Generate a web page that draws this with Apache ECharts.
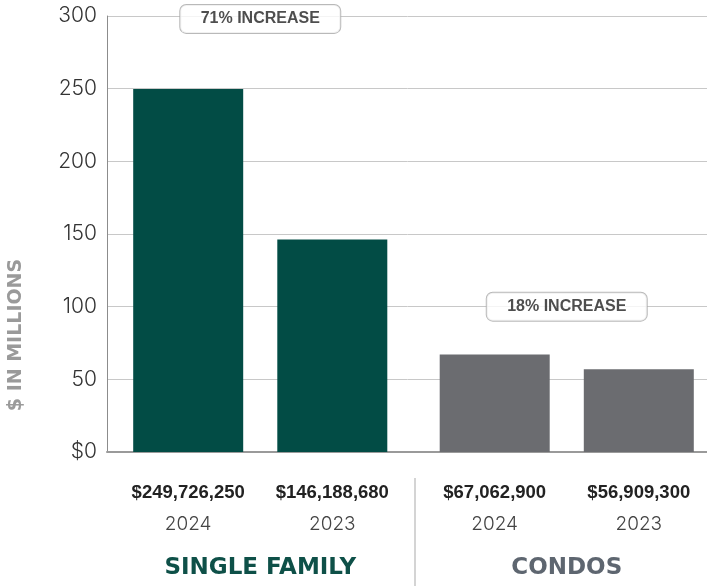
<!DOCTYPE html>
<html>
<head>
<meta charset="utf-8">
<script src="https://cdn.jsdelivr.net/npm/echarts@6/dist/echarts.min.js"></script>
<style>
  html, body { margin: 0; padding: 0; background: #fff; }
  #main { width: 707px; height: 586px; }
</style>
</head>
<body>
<div id="main"></div>
<script>
var groups = ['SINGLE FAMILY', 'CONDOS'];
var years = ['2024', '2023'];
// dollar totals, [single family, condos]
var sales2024 = [249726250, 67062900];
var sales2023 = [146188680, 56909300];
var yTicks = [0, 50, 100, 150, 200, 250, 300];
var callouts = ['71% INCREASE', '18% INCREASE'];
var calloutLevels = [298, 100];

var groupColors = ['#024c45', '#6b6c70'];
var groupTextColors = ['#0e5048', '#5e6670'];
var boldFont = '"Liberation Sans", Arial, sans-serif';

function money(v) {
  return '$' + Math.round(v).toLocaleString('en-US');
}

function barSeries(yearIdx, values) {
  return {
    name: years[yearIdx],
    type: 'bar',
    barWidth: 110,
    barGap: '31%',
    data: values.map(function (v, i) {
      return {
        value: v / 1e6,
        raw: v,
        itemStyle: { color: groupColors[i] }
      };
    }),
    label: {
      show: true,
      position: 'bottom',
      distance: 30,
      formatter: function (p) {
        return '{v|' + money(p.data.raw) + '}\n{y|' + years[yearIdx] + '}';
      },
      rich: {
        v: { fontFamily: boldFont, fontWeight: 'bold', fontSize: 18.5, color: '#222', lineHeight: 22 },
        y: { fontFamily: 'Inter, sans-serif', fontWeight: 300, fontSize: 19, color: '#444', lineHeight: 40 }
      }
    }
  };
}

var myChart = echarts.init(document.getElementById('main'));
var option = {
  animation: false,
  grid: { left: 107, width: 613, top: 16, bottom: 134, outerBoundsMode: 'none', containLabel: false },
  xAxis: {
    type: 'category',
    data: groups,
    axisLine: { show: true, lineStyle: { color: '#9a9a9a', width: 2 } },
    axisTick: { show: false },
    axisLabel: {
      margin: 101,
      formatter: function (v, i) { return '{g' + i + '|' + v + '}'; },
      rich: {
        g0: { fontFamily: '"DejaVu Sans", sans-serif', fontWeight: 'bold', fontSize: 23, color: groupTextColors[0], lineHeight: 30 },
        g1: { fontFamily: '"DejaVu Sans", sans-serif', fontWeight: 'bold', fontSize: 23, color: groupTextColors[1], lineHeight: 30 }
      }
    }
  },
  yAxis: {
    type: 'value',
    min: yTicks[0],
    max: yTicks[yTicks.length - 1],
    interval: 50,
    axisLine: { show: true, lineStyle: { color: '#8c8c8c', width: 1 } },
    axisTick: { show: false },
    splitLine: { lineStyle: { color: '#c8c8c8', width: 1 } },
    axisLabel: {
      margin: 10,
      fontFamily: 'Inter, sans-serif',
      fontWeight: 300,
      fontSize: 21,
      color: '#333',
      formatter: function (v) { return v === 0 ? '$0' : String(v); }
    }
  },
  graphic: [
    {
      type: 'text',
      x: 16, y: 335,
      rotation: Math.PI / 2,
      style: {
        text: '$ IN MILLIONS',
        font: 'bold 19px "DejaVu Sans", sans-serif',
        fill: '#9a9a9a',
        align: 'center',
        verticalAlign: 'middle'
      }
    },
    {
      type: 'line',
      shape: { x1: 415, y1: 478, x2: 415, y2: 586 },
      style: { stroke: '#c6c6c6', lineWidth: 1.5 }
    }
  ],
  series: [
    barSeries(0, sales2024),
    barSeries(1, sales2023),
    {
      type: 'scatter',
      symbolSize: 0,
      z: 5,
      data: groups.map(function (g, i) { return [g, calloutLevels[i]]; }),
      label: {
        show: true,
        position: 'inside',
        formatter: function (p) { return callouts[p.dataIndex]; },
        fontFamily: boldFont,
        fontWeight: 'bold',
        fontSize: 16,
        color: '#222',
        backgroundColor: '#fff',
        borderColor: '#a8a8a8',
        borderWidth: 1,
        borderRadius: 6,
        width: 150,
        align: 'center',
        lineHeight: 18,
        padding: [5, 5]
      }
    }
  ]
};
myChart.setOption(option);
</script>
</body>
</html>
